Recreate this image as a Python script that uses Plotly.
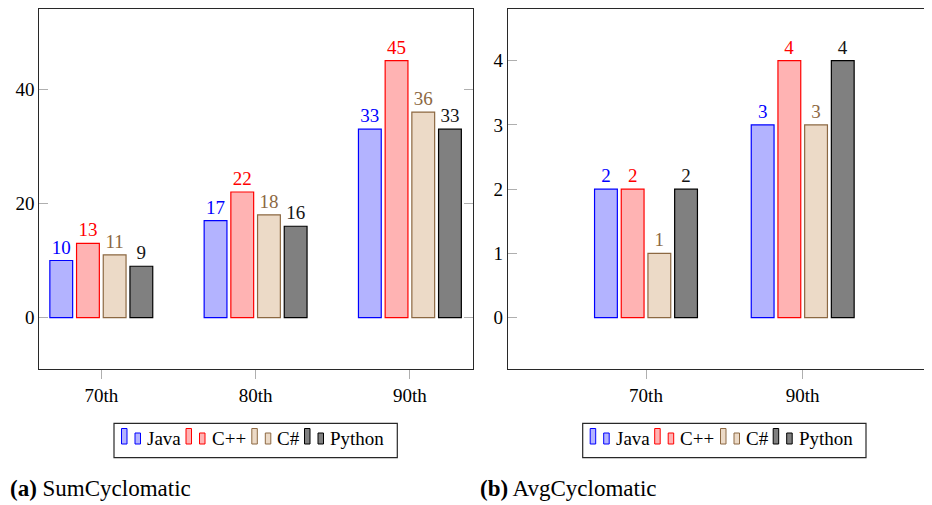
import plotly.graph_objects as go

# ---------------- data ----------------
series_names = ["Java", "C++", "C#", "Python"]

sum_categories = ["70th", "80th", "90th"]
sum_java = [10, 17, 33]
sum_cpp = [13, 22, 45]
sum_cs = [11, 18, 36]
sum_python = [9, 16, 33]

avg_categories = ["70th", "90th"]
avg_java = [2, 3]
avg_cpp = [2, 4]
avg_cs = [1, 3]
avg_python = [2, 4]

sum_ticks = [0, 20, 40]
avg_ticks = [0, 1, 2, 3, 4]

# ---------------- styles ----------------
# The page body has an 8px margin, so the figure starts at (8, 8) in the window.
OX, OY = 8, 8
W, H = 932 - OX, 505 - OY
FONT = "Liberation Serif"
fills = ["rgb(179,179,255)", "rgb(255,179,179)", "rgb(236,218,199)", "rgb(128,128,128)"]
edges = ["rgb(0,0,255)", "rgb(255,0,0)", "rgb(140,104,66)", "rgb(0,0,0)"]
text_colors = ["rgb(0,0,255)", "rgb(255,0,0)", "rgb(140,104,66)", "rgb(20,20,20)"]

BAR_PX = 22.8
STEP_PX = 26.7

# axis pixel geometry (window pixels)
L_X0, L_X1 = 39.3, 472.7
R_X0, R_X1 = 508.0, 932.0
Y_TOP, Y_BOT = 9.3, 369.0
L_PPU = 154.3   # px per category unit (left)
R_PPU = 156.7   # px per category unit (right)
L_FIRST = 101.3
R_FIRST = 646.0


def px2x(p):
    return (p - OX) / W


def px2y(p):
    return 1 - (p - OY) / H


fig = go.Figure()


def add_group(values_list, cats, xaxis, yaxis, ppu):
    xs = list(range(len(cats)))
    w = BAR_PX / ppu
    step = STEP_PX / ppu
    for i, vals in enumerate(values_list):
        center = (i - 1.5) * step
        fig.add_trace(go.Bar(
            x=xs, y=vals, name=series_names[i],
            width=w, offset=center - w / 2,
            marker=dict(color=fills[i], line=dict(color=edges[i], width=1.2)),
            text=[str(v) for v in vals], textposition="outside",
            textfont=dict(family=FONT, size=19, color=text_colors[i]),
            cliponaxis=False, showlegend=False,
            xaxis=xaxis, yaxis=yaxis,
        ))


add_group([sum_java, sum_cpp, sum_cs, sum_python], sum_categories, "x", "y", L_PPU)
add_group([avg_java, avg_cpp, avg_cs, avg_python], avg_categories, "x2", "y2", R_PPU)

xcommon = dict(showline=True, linecolor="rgb(40,40,40)", linewidth=1.2,
               ticks="outside", ticklen=9, tickcolor="rgb(175,175,175)", tickwidth=1.2,
               showgrid=False, zeroline=False, automargin=False,
               tickfont=dict(family=FONT, size=19, color="black"))
ycommon = dict(showline=True, linecolor="rgb(40,40,40)", linewidth=1.2,
               ticks="inside", ticklen=9, tickcolor="rgb(175,175,175)", tickwidth=1.2,
               showgrid=False, zeroline=False, automargin=False,
               tickfont=dict(family=FONT, size=19, color="black"))

l_range = [-(L_FIRST - L_X0) / L_PPU, (L_X1 - L_FIRST) / L_PPU]
r_range = [-(R_FIRST - R_X0) / R_PPU, (R_X1 - R_FIRST) / R_PPU]

fig.update_layout(
    width=W, height=H, margin=dict(l=0, r=0, t=0, b=0, pad=0, autoexpand=False),
    paper_bgcolor="white", plot_bgcolor="white",
    barmode="overlay", showlegend=False,
    xaxis=dict(domain=[px2x(L_X0), px2x(L_X1)], range=l_range,
               tickvals=list(range(len(sum_categories))), ticktext=sum_categories,
               mirror="ticks", anchor="y", **xcommon),
    yaxis=dict(domain=[px2y(Y_BOT), px2y(Y_TOP)], range=[-9, 54],
               tickvals=sum_ticks, mirror="ticks", anchor="x", **ycommon),
    xaxis2=dict(domain=[px2x(R_X0), 1.0], range=r_range,
                tickvals=list(range(len(avg_categories))), ticktext=avg_categories,
                mirror="ticks", anchor="y2", **xcommon),
    yaxis2=dict(domain=[px2y(Y_BOT), px2y(Y_TOP)], range=[-0.8, 4.8],
                tickvals=avg_ticks, mirror=False, anchor="x2", **ycommon),
)

# ---------------- custom legends ----------------
LEG_W, LEG_Y0, LEG_Y1 = 283.3, 423.3, 457.7
entry_offsets = [7.5, 72.0, 137.8, 190.5]


def draw_legend(box_x0):
    fig.add_shape(type="rect", xref="paper", yref="paper",
                  x0=px2x(box_x0), x1=px2x(box_x0 + LEG_W),
                  y0=px2y(LEG_Y1), y1=px2y(LEG_Y0),
                  line=dict(color="rgb(40,40,40)", width=1.2), fillcolor="white")
    for i, off in enumerate(entry_offsets):
        bx = box_x0 + off
        fig.add_shape(type="rect", xref="paper", yref="paper",
                      x0=px2x(bx), x1=px2x(bx + 5.5),
                      y0=px2y(444), y1=px2y(428.5),
                      line=dict(color=edges[i], width=1), fillcolor=fills[i])
        fig.add_shape(type="rect", xref="paper", yref="paper",
                      x0=px2x(bx + 13.5), x1=px2x(bx + 19),
                      y0=px2y(444), y1=px2y(433),
                      line=dict(color=edges[i], width=1), fillcolor=fills[i])
        fig.add_annotation(xref="paper", yref="paper", x=px2x(bx + 23.5), y=px2y(438),
                           text=series_names[i], showarrow=False,
                           xanchor="left", yanchor="middle",
                           font=dict(family=FONT, size=19, color="black"))


draw_legend(114.0)
draw_legend(582.7)

# ---------------- captions ----------------
fig.add_annotation(xref="paper", yref="paper", x=0.0, y=px2y(488),
                   text="<b>(a)</b> SumCyclomatic", showarrow=False,
                   xanchor="left", yanchor="middle",
                   font=dict(family=FONT, size=23, color="black"))
fig.add_annotation(xref="paper", yref="paper", x=px2x(478), y=px2y(488),
                   text="<b>(b)</b> AvgCyclomatic", showarrow=False,
                   xanchor="left", yanchor="middle",
                   font=dict(family=FONT, size=23, color="black"))

fig.write_html("out.html")
